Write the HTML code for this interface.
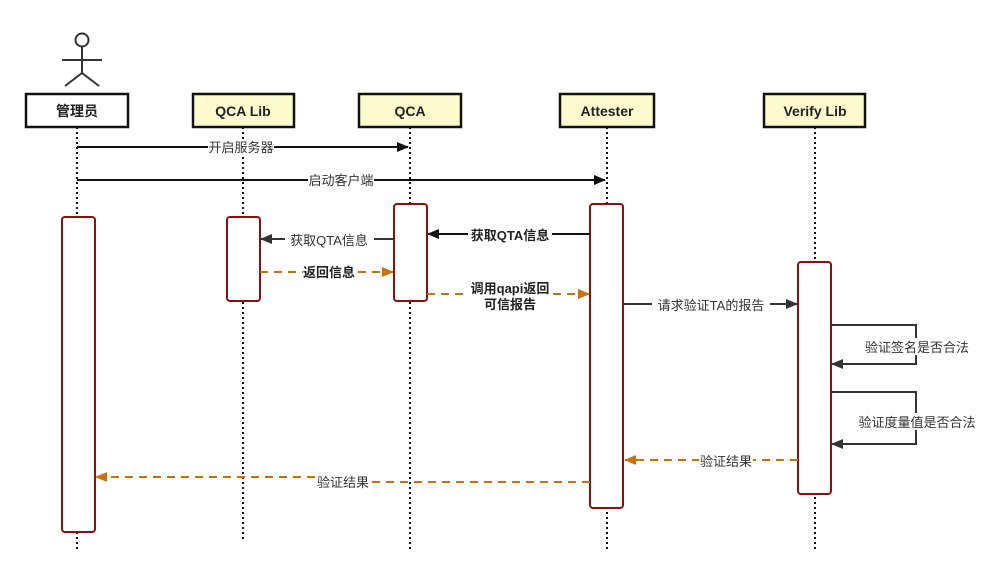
<!DOCTYPE html>
<html><head><meta charset="utf-8"><style>
html,body{margin:0;padding:0;background:#fff;}
svg{display:block;}
text{font-family:"Liberation Sans","Noto Sans CJK SC",sans-serif;font-size:13px;fill:#333;}
.b{font-weight:bold;fill:#222;}
.h{font-weight:bold;font-size:14px;fill:#222;}
</style></head><body>
<svg width="1007" height="570" viewBox="0 0 1007 570" xmlns="http://www.w3.org/2000/svg">
<defs>
<marker id="ak" markerWidth="12" markerHeight="10" refX="11" refY="5" orient="auto" markerUnits="userSpaceOnUse"><path d="M0,0 L12,5 L0,10 Z" fill="#111"/></marker>
<marker id="ag" markerWidth="12" markerHeight="10" refX="11" refY="5" orient="auto" markerUnits="userSpaceOnUse"><path d="M0,0 L12,5 L0,10 Z" fill="#333"/></marker>
<marker id="ao" markerWidth="12" markerHeight="10" refX="11" refY="5" orient="auto" markerUnits="userSpaceOnUse"><path d="M0,0 L12,5 L0,10 Z" fill="#c8710f"/></marker>
</defs>
<g stroke="#333" stroke-width="2" fill="none">
<circle cx="82" cy="40" r="6.5"/>
<line x1="82" y1="47" x2="82" y2="73"/>
<line x1="62" y1="60" x2="102" y2="60"/>
<line x1="82" y1="73" x2="65" y2="86"/>
<line x1="82" y1="73" x2="99" y2="86"/>
</g>
<g stroke="#111" stroke-width="2" stroke-dasharray="2,3">
<line x1="77" y1="127" x2="77" y2="550"/>
<line x1="243" y1="127" x2="243" y2="540"/>
<line x1="410" y1="127" x2="410" y2="550"/>
<line x1="607" y1="127" x2="607" y2="550"/>
<line x1="815" y1="127" x2="815" y2="550"/>
</g>
<g stroke="#111" stroke-width="2.5">
<rect x="26" y="94" width="102" height="33" fill="#fff"/>
<rect x="193" y="94" width="101" height="33" fill="#fdfacd"/>
<rect x="359" y="94" width="102" height="33" fill="#fdfacd"/>
<rect x="560" y="94" width="94" height="33" fill="#fdfacd"/>
<rect x="764" y="94" width="101" height="33" fill="#fdfacd"/>
</g>
<text class="h" x="77" y="116" text-anchor="middle">管理员</text>
<text class="h" x="243" y="116" text-anchor="middle">QCA Lib</text>
<text class="h" x="410" y="116" text-anchor="middle">QCA</text>
<text class="h" x="607" y="116" text-anchor="middle">Attester</text>
<text class="h" x="815" y="116" text-anchor="middle">Verify Lib</text>
<g stroke="#8b0f0f" stroke-width="2" fill="#fff">
<rect x="62" y="217" width="33" height="315" rx="3"/>
<rect x="227" y="217" width="33" height="84" rx="3"/>
<rect x="394" y="204" width="33" height="97" rx="3"/>
<rect x="590" y="204" width="33" height="304" rx="3"/>
<rect x="798" y="262" width="33" height="232" rx="3"/>
</g>
<g stroke="#111" stroke-width="2" fill="none">
<line x1="77" y1="147" x2="408" y2="147" marker-end="url(#ak)"/>
<line x1="77" y1="180" x2="605" y2="180" marker-end="url(#ak)"/>
<line x1="590" y1="234" x2="428" y2="234" marker-end="url(#ak)"/>
</g>
<g stroke="#333" stroke-width="2" fill="none">
<line x1="394" y1="239" x2="261" y2="239" marker-end="url(#ag)"/>
<line x1="623" y1="304" x2="797" y2="304" marker-end="url(#ag)"/>
<polyline points="831,325 916,325 916,364 832,364" marker-end="url(#ag)"/>
<polyline points="831,392 916,392 916,444 832,444" marker-end="url(#ag)"/>
</g>
<g stroke="#c8710f" stroke-width="2" fill="none" stroke-dasharray="8,6">
<line x1="260" y1="272" x2="393" y2="272" marker-end="url(#ao)"/>
<line x1="427" y1="294" x2="589" y2="294" marker-end="url(#ao)"/>
<line x1="798" y1="460" x2="625" y2="460" marker-end="url(#ao)"/>
<polyline points="590,482 330,482 330,477 96,477" marker-end="url(#ao)"/>
</g>
<g>
<rect x="208" y="139" width="66" height="16" fill="#fff"/>
<text x="241" y="152" text-anchor="middle">开启服务器</text>
<rect x="308" y="172" width="66" height="16" fill="#fff"/>
<text x="341" y="185" text-anchor="middle">启动客户端</text>
<rect x="468" y="227" width="84" height="16" fill="#fff"/>
<text class="b" x="510" y="240" text-anchor="middle">获取QTA信息</text>
<rect x="285" y="231" width="89" height="17" fill="#fff"/>
<text x="329" y="245" text-anchor="middle">获取QTA信息</text>
<rect x="303" y="264" width="52" height="16" fill="#fff"/>
<text class="b" x="329" y="277" text-anchor="middle">返回信息</text>
<rect x="468" y="280" width="84" height="32" fill="#fff"/>
<text class="b" x="510" y="293" text-anchor="middle">调用qapi返回</text>
<text class="b" x="510" y="309" text-anchor="middle">可信报告</text>
<rect x="652" y="296" width="118" height="17" fill="#fff"/>
<text x="711" y="310" text-anchor="middle">请求验证TA的报告</text>
<rect x="860" y="338" width="114" height="17" fill="#fff"/>
<text x="917" y="352" text-anchor="middle">验证签名是否合法</text>
<rect x="853" y="413" width="128" height="17" fill="#fff"/>
<text x="917" y="427" text-anchor="middle">验证度量值是否合法</text>
<rect x="699" y="452" width="54" height="17" fill="#fff"/>
<text x="726" y="466" text-anchor="middle">验证结果</text>
<rect x="316" y="473" width="54" height="17" fill="#fff"/>
<text x="343" y="487" text-anchor="middle">验证结果</text>
</g>
</svg>
</body></html>
